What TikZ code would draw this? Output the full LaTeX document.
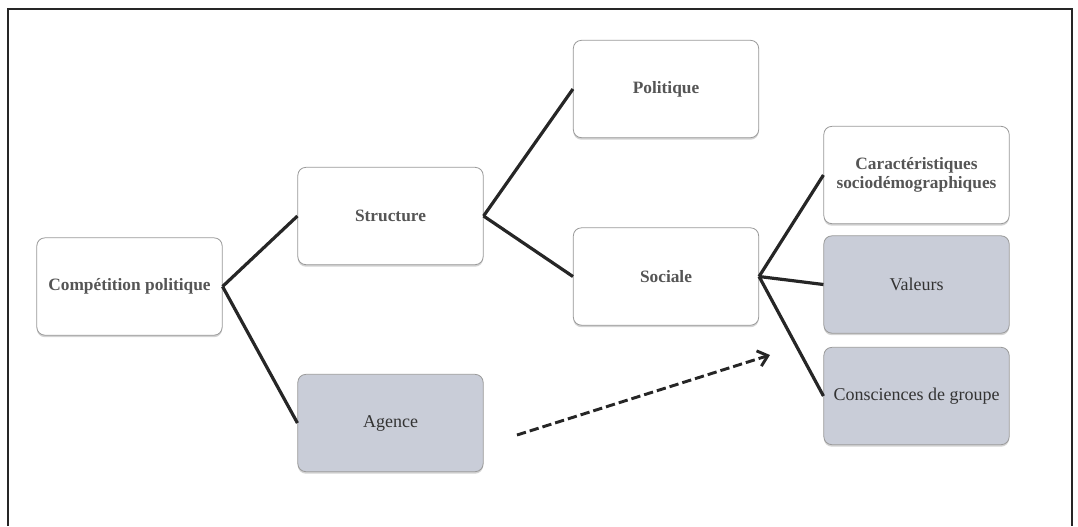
\documentclass[tikz,border=0pt]{standalone}
\usepackage{fontspec}
\setmainfont{Liberation Serif}
\usetikzlibrary{shadows,arrows.meta}
\definecolor{boxline}{HTML}{9A9A9A}
\definecolor{boxblue}{HTML}{C9CDD8}
\definecolor{lighttext}{HTML}{555555}
\definecolor{darktext}{HTML}{333333}
\tikzset{
  box/.style={draw=boxline, line width=0.6pt, rounded corners=6pt, fill=white,
    minimum width=139pt, minimum height=73pt, align=center, inner sep=2pt,
    font=\fontsize{13}{14}\selectfont\bfseries, text=lighttext,
    drop shadow={shadow xshift=0pt, shadow yshift=-1.5pt, opacity=0.35}},
  shadedbox/.style={box, fill=boxblue, font=\fontsize{13.5}{15}\selectfont, text=darktext},
  link/.style={line width=2.4pt, draw=black!85}
}
\begin{document}
\begin{tikzpicture}[x=0.75pt, y=-0.75pt]
  \useasboundingbox (0, 0) rectangle (1078, 526);
  % frame
  \draw[line width=1.5pt, black!85] (8, 526) -- (8, 9) -- (1072, 9) -- (1072, 526);
  % boxes
  \node[box] (comp) at (129.5, 286.5) {Compétition politique};
  \node[box] (struct) at (390.5, 216) {Structure};
  \node[shadedbox] (agence) at (390.5, 423) {Agence};
  \node[box] (polit) at (666, 89) {Politique};
  \node[box] (soc) at (666, 276.5) {Sociale};
  \node[box] (carac) at (916.5, 175) {Caractéristiques\\sociodémographiques};
  \node[shadedbox] (val) at (916.5, 284.5) {Valeurs};
  \node[shadedbox] (consc) at (916.5, 396) {Consciences de groupe};
  % links
  \draw[link] (comp.east) -- (struct.west);
  \draw[link] (comp.east) -- (agence.west);
  \draw[link] (struct.east) -- (polit.west);
  \draw[link] (struct.east) -- (soc.west);
  \draw[link] (soc.east) -- (carac.west);
  \draw[link] (soc.east) -- (val.west);
  \draw[link] (soc.east) -- (consc.west);
  % agency effect
  \coordinate (dashstart) at (517, 435);
  \coordinate (dashend) at (770, 355);
  \draw[line width=2.2pt, black!85, dashed, dash pattern=on 7pt off 3pt, -{Straight Barb[length=7pt, width=12pt]}] (dashstart) -- (dashend);
\end{tikzpicture}
\end{document}
